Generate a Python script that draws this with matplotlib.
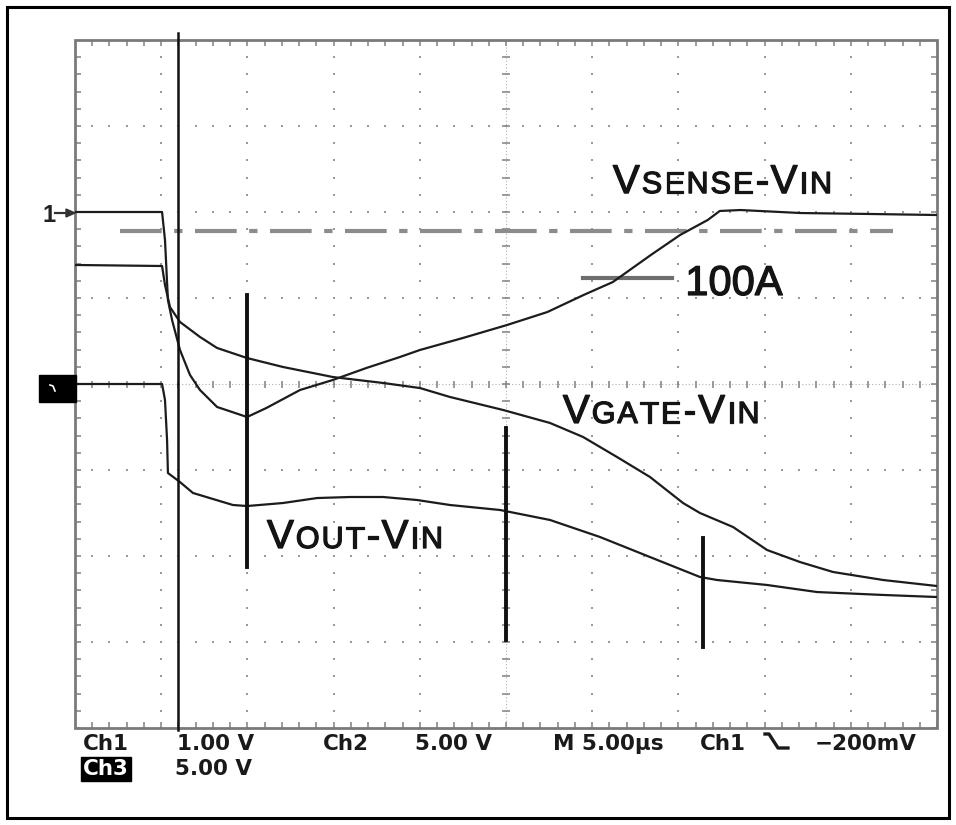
import numpy as np
import matplotlib
matplotlib.use("Agg")
import matplotlib.pyplot as plt
import matplotlib.patheffects as pe
from matplotlib.patches import Rectangle
from matplotlib.collections import LineCollection
from matplotlib.transforms import IdentityTransform

# ---------------- data (time in µs, 5 µs/div; amplitude in screen divisions) -------------
vsense_t = [0, 5.05, 5.22, 5.39, 5.63, 6.09, 6.67, 7.25, 8.24, 9.98, 11.1, 13.05, 14.96,
            16.9, 18.85, 20.0, 22.5, 25.06, 27.4, 29.5, 31.2, 33.4, 35.1, 36.7, 37.4, 38.6,
            42.1, 46.1, 50.0]
vsense_v = [2.0, 2.0, 1.674, 0.977, 0.744, 0.395, 0.105, -0.07, -0.267, -0.384, -0.279,
            -0.07, 0.047, 0.186, 0.314, 0.395, 0.535, 0.686, 0.837, 1.035, 1.186, 1.5,
            1.733, 1.907, 2.012, 2.023, 1.988, 1.977, 1.965]

vgate_t = [0, 5.05, 5.22, 5.51, 6.09, 7.25, 8.24, 9.98, 12.06, 14.96, 17.87, 20.01, 21.75,
           24.83, 27.55, 29.47, 31.44, 33.35, 35.27, 36.25, 38.17, 40.14, 42.05, 43.97,
           46.87, 50.0]
vgate_v = [1.384, 1.372, 1.151, 0.895, 0.721, 0.547, 0.419, 0.302, 0.198, 0.081, 0.012,
           -0.047, -0.151, -0.302, -0.453, -0.616, -0.849, -1.081, -1.384, -1.5, -1.663,
           -1.93, -2.07, -2.186, -2.279, -2.349]

vout_t = [0, 5.05, 5.22, 5.34, 5.39, 6.09, 6.84, 9.16, 9.98, 12.06, 14.04, 15.95, 17.87,
          19.84, 21.75, 24.65, 27.55, 30.45, 33.35, 36.25, 37.24, 40.14, 43.04, 46.87, 50.0]
vout_v = [0.0, 0.0, -0.186, -0.651, -1.035, -1.14, -1.267, -1.407, -1.419, -1.384, -1.326,
          -1.314, -1.314, -1.349, -1.407, -1.465, -1.581, -1.779, -2.012, -2.244, -2.279,
          -2.337, -2.419, -2.453, -2.477]

cursor_t = 5.97
marker_t = [10.0, 25.0, 36.45]
marker_lo = [-2.128, -2.98, -3.06]
marker_hi = [1.035, -0.51, -1.79]
threshold_v = 1.78            # dash-dot 100 A level
label_100a_v = 1.233

bottom_labels = [("Ch1", 83, 750), ("1.00 V", 177, 750), ("Ch2", 323, 750),
                 ("5.00 V", 415, 750), ("M 5.00µs", 553, 750), ("Ch1", 700, 750),
                 ("\u2212200mV", 815, 750), ("5.00 V", 175, 775)]

# ---------------- figure ----------------
W, H, DPI = 956, 825, 100
fig = plt.figure(figsize=(W / DPI, H / DPI), dpi=DPI)
fig.patch.set_facecolor("white")

L, R, T, B = 75, 937, 40, 728
ax = fig.add_axes([L / W, (H - B) / H, (R - L) / W, (B - T) / H])
ax.set_xlim(0, 50)
ax.set_ylim(-4, 4)
ax.axis("off")

px_x = 50 / (R - L)   # µs per pixel
px_y = 8 / (B - T)    # div per pixel

grid_c = "#9a9a9a"
# dotted graticule
for gy in [-3, -2, -1, 1, 2, 3]:
    xs = np.arange(0, 50.01, 1.0)
    ax.scatter(xs, np.full_like(xs, gy), s=4, c=grid_c, marker="s", lw=0, zorder=1)
for gx in [5, 10, 15, 20, 30, 35, 40, 45]:
    ys = np.arange(-4, 4.01, 0.2)
    ax.scatter(np.full_like(ys, gx), ys, s=4, c=grid_c, marker="s", lw=0, zorder=1)

# crosshair with ticks
ax.plot([0, 50], [0, 0], color="#b0b0b0", lw=0.8, ls=(0, (1, 2)), zorder=1)
ax.plot([25, 25], [-4, 4], color="#b0b0b0", lw=0.8, ls=(0, (1, 2)), zorder=1)
segs = []
for xt in np.arange(0, 50.01, 1.0):
    segs.append([(xt, -3.5 * px_y), (xt, 3.5 * px_y)])
for yt in np.arange(-4, 4.01, 0.2):
    segs.append([(25 - 4 * px_x, yt), (25 + 4 * px_x, yt)])
# frame ticks
for xt in np.arange(0, 50.01, 1.0):
    segs.append([(xt, 4), (xt, 4 - 6 * px_y)])
    segs.append([(xt, -4), (xt, -4 + 6 * px_y)])
for yt in np.arange(-4, 4.01, 0.2):
    segs.append([(0, yt), (6 * px_x, yt)])
    segs.append([(50, yt), (50 - 6 * px_x, yt)])
ax.add_collection(LineCollection(segs, colors="#8a8a8a", linewidths=1.2, zorder=1))
ax.add_patch(Rectangle((0, -4), 50, 8, fill=False, ec="#7a7a7a", lw=2.0, zorder=2,
                       clip_on=False))

# threshold dash-dot line
ax.plot([0.52 * 5, 9.49 * 5], [threshold_v, threshold_v], color="#8c8c8c", lw=3,
        ls=(0, (10, 3, 2, 3)), zorder=2)
# 100 A marker line
ax.plot([5.89 * 5, 6.93 * 5], [label_100a_v, label_100a_v], color="#6e6e6e", lw=3, zorder=2)

# traces
tc = "#1c1c1c"
for tt, vv in [(vsense_t, vsense_v), (vgate_t, vgate_v), (vout_t, vout_v)]:
    ax.plot(tt, vv, color=tc, lw=1.6, zorder=4, solid_joinstyle="round")

# cursor & markers
ax.plot([cursor_t, cursor_t], [-4.02, 4.08], color="#111111", lw=1.8, zorder=5, clip_on=False)
for mt, lo, hi in zip(marker_t, marker_lo, marker_hi):
    ax.plot([mt, mt], [lo, hi], color="#111111", lw=2.8, zorder=5)

# ---------------- text helpers ----------------
fig.canvas.draw()
renderer = fig.canvas.get_renderer()
FAM = ["Liberation Sans", "DejaVu Sans"]
THICK = [pe.withStroke(linewidth=0.9, foreground="#141414")]


def smallcaps(x, y, pieces, track=2.0):
    X, Y = ax.transData.transform((x, y))
    for s, size in pieces:
        for ch in s:
            t = fig.text(X, Y, ch, transform=IdentityTransform(), fontsize=size,
                         family=FAM, color="#141414", ha="left", va="baseline", zorder=6,
                         path_effects=THICK)
            ext = t.get_window_extent(renderer)
            X = ext.x1 + track


BIG, SMALL = 29, 22
smallcaps(6.24 * 5, 2.22, [("V", BIG), ("SENSE", SMALL), ("-", BIG), ("V", BIG), ("IN", SMALL)])
smallcaps(5.66 * 5, -0.453, [("V", BIG), ("GATE", SMALL), ("-", BIG), ("V", BIG), ("IN", SMALL)])
smallcaps(2.227 * 5, -1.907, [("V", BIG), ("OUT", SMALL), ("-", BIG), ("V", BIG), ("IN", SMALL)])
ax.text(7.08 * 5, 1.035, "100A", fontsize=30, family=FAM, color="#141414",
        ha="left", va="baseline", zorder=6, path_effects=THICK)

# bottom status text
for s, x, y in bottom_labels:
    fig.text(x / W, (H - y) / H, s, fontsize=15.5, family=["DejaVu Sans"], weight="bold",
             color="#1a1a1a", ha="left", va="baseline")
fig.text(83 / W, (H - 775) / H, "Ch3", fontsize=15.5, family=["DejaVu Sans"], weight="bold",
         color="white", ha="left", va="baseline",
         bbox=dict(boxstyle="square,pad=0.08", fc="black", ec="black"))

# trigger slope symbol
fig.add_artist(plt.Line2D(np.array([765, 769, 778, 788]) / W,
                          (H - np.array([734, 734, 748, 748])) / H,
                          transform=fig.transFigure, color="#1a1a1a", lw=2.4))

# channel 1 ground marker "1→"
fig.text(42 / W, (H - 222) / H, "1", fontsize=17, family=FAM, weight="bold",
         color="#222222", ha="left", va="baseline")
fig.add_artist(plt.Line2D(np.array([55, 70]) / W, (H - np.array([213, 213])) / H,
                          transform=fig.transFigure, color="#333333", lw=1.6))
fig.add_artist(plt.Polygon([[(66) / W, (H - 209) / H], [(75) / W, (H - 213) / H],
                            [(66) / W, (H - 217) / H]], closed=True,
                           transform=fig.transFigure, color="#333333"))

# channel 3 marker box
fig.add_artist(Rectangle((39 / W, (H - 402) / H), 37 / W, 27 / H,
                         transform=fig.transFigure, fc="black", ec="black"))
fig.add_artist(plt.Line2D(np.array([50, 53, 55]) / W, (H - np.array([385, 386, 391])) / H,
                          transform=fig.transFigure, color="white", lw=1.2))

# outer border
fig.add_artist(Rectangle((7 / W, (H - 818) / H), 942 / W, 811 / H,
                         transform=fig.transFigure, fill=False, ec="black", lw=2.2))

fig.savefig("out.png", dpi=DPI, facecolor="white")
